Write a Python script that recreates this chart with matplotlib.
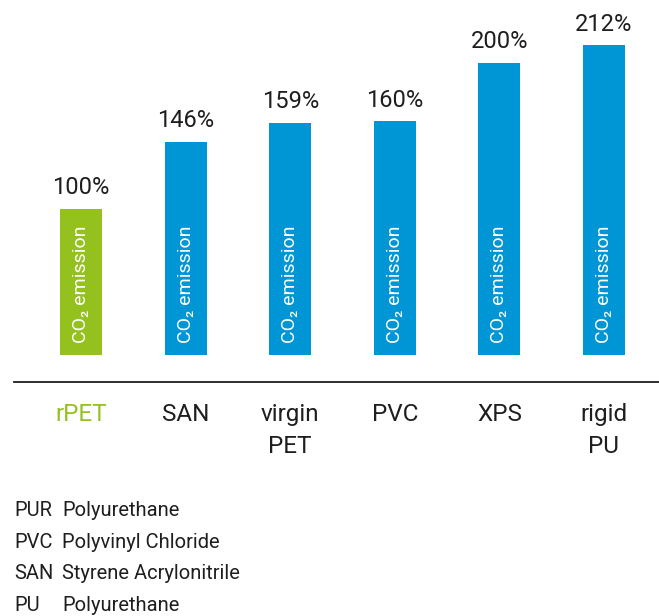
import matplotlib.pyplot as plt

# data
materials = ["rPET", "SAN", "virgin\nPET", "PVC", "XPS", "rigid\nPU"]
emission = [100, 146, 159, 160, 200, 212]
abbrevs = ["PUR", "PVC", "SAN", "PU"]
meanings = ["Polyurethane", "Polyvinyl Chloride", "Styrene Acrylonitrile", "Polyurethane"]

green = "#95c11f"
blue = "#0096d6"
dark = "#1e1e1e"
plt.rcParams['font.family'] = ['Roboto', 'DejaVu Sans']

W, H = 659, 616
fig = plt.figure(figsize=(W / 100, H / 100), dpi=100)
ax = fig.add_axes([0, 0, 1, 1])
ax.axis('off')

# pixel layout: bar centres 81..604 px, zero line at 355 px, 1.46 px per %
step = 104.6
ax.set_xlim(-81 / step, 5 + (W - 604) / step)
ax.set_ylim(-(H - 355) / 1.46, 355 / 1.46)

x = list(range(len(materials)))
colors = [green] + [blue] * (len(materials) - 1)
ax.bar(x, emission, width=0.40, color=colors)

for i, v in enumerate(emission):
    ax.annotate(f"{v}%", (i, v), xytext=(0, 10.5), textcoords='offset points',
                ha='center', va='baseline', fontsize=17, color=dark)
    ax.text(i, 48.6, "CO\u2082 emission", rotation=90, ha='center', va='center',
            fontsize=14, color='white')

# base line
ax.axhline(-27 / 1.46, xmin=14 / W, xmax=1, color=dark, lw=1.3)

# category labels, one text per line
tr = ax.get_xaxis_transform()
for i, name in enumerate(materials):
    for j, line in enumerate(name.split("\n")):
        ax.text(i, 1 - (421 + 32 * j) / H, line, transform=tr, ha='center',
                va='baseline', fontsize=17.5, color=colors[i] if i == 0 else dark)

# abbreviations
for k, (a, m) in enumerate(zip(abbrevs, meanings)):
    yb = 1 - (516 + 31.6 * k) / H
    fig.text(14 / W, yb, a, ha='left', va='baseline', fontsize=14.5, color=dark)
    fig.text(62 / W, yb, m, ha='left', va='baseline', fontsize=14.5, color=dark)

fig.savefig("out.png", dpi=100)
